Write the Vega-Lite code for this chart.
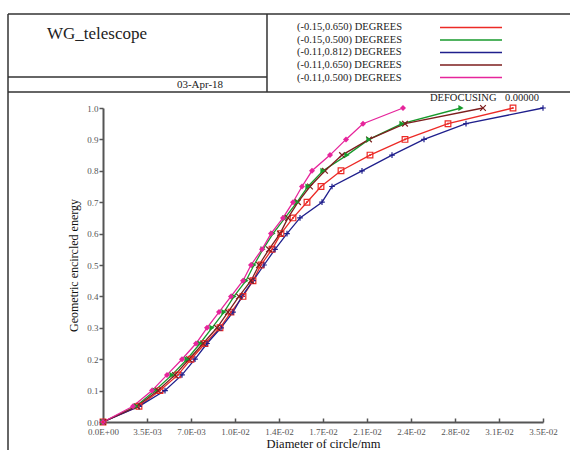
{
  "$schema": "https://vega.github.io/schema/vega-lite/v6.json",
  "width": 440,
  "height": 314,
  "autosize": "none",
  "padding": {"left": 103, "top": 108, "right": 27, "bottom": 28},
  "background": "white",
  "config": {
    "font": "Liberation Serif",
    "view": {"stroke": null},
    "axis": {"grid": false, "labelOverlap": false, "labelFlush": false, "labelBound": false},
    "axisY": {"labelOverlap": false, "tickCount": 11},
    "axisQuantitative": {"labelOverlap": false}
  },
  "datasets": {
    "ee": [
      {"s": "(-0.15,0.650) DEGREES", "e": 0.00, "d": 0},
      {"s": "(-0.15,0.650) DEGREES", "e": 0.05, "d": 0.002864},
      {"s": "(-0.15,0.650) DEGREES", "e": 0.10, "d": 0.004534},
      {"s": "(-0.15,0.650) DEGREES", "e": 0.15, "d": 0.005966},
      {"s": "(-0.15,0.650) DEGREES", "e": 0.20, "d": 0.007000},
      {"s": "(-0.15,0.650) DEGREES", "e": 0.25, "d": 0.008114},
      {"s": "(-0.15,0.650) DEGREES", "e": 0.30, "d": 0.009307},
      {"s": "(-0.15,0.650) DEGREES", "e": 0.35, "d": 0.010182},
      {"s": "(-0.15,0.650) DEGREES", "e": 0.40, "d": 0.011136},
      {"s": "(-0.15,0.650) DEGREES", "e": 0.45, "d": 0.011932},
      {"s": "(-0.15,0.650) DEGREES", "e": 0.50, "d": 0.012568},
      {"s": "(-0.15,0.650) DEGREES", "e": 0.55, "d": 0.013443},
      {"s": "(-0.15,0.650) DEGREES", "e": 0.60, "d": 0.014159},
      {"s": "(-0.15,0.650) DEGREES", "e": 0.65, "d": 0.015114},
      {"s": "(-0.15,0.650) DEGREES", "e": 0.70, "d": 0.016227},
      {"s": "(-0.15,0.650) DEGREES", "e": 0.75, "d": 0.017341},
      {"s": "(-0.15,0.650) DEGREES", "e": 0.80, "d": 0.018932},
      {"s": "(-0.15,0.650) DEGREES", "e": 0.85, "d": 0.021239},
      {"s": "(-0.15,0.650) DEGREES", "e": 0.90, "d": 0.024023},
      {"s": "(-0.15,0.650) DEGREES", "e": 0.95, "d": 0.027443},
      {"s": "(-0.15,0.650) DEGREES", "e": 1.00, "d": 0.032614},
      {"s": "(-0.15,0.500) DEGREES", "e": 0.00, "d": 0},
      {"s": "(-0.15,0.500) DEGREES", "e": 0.05, "d": 0.002625},
      {"s": "(-0.15,0.500) DEGREES", "e": 0.10, "d": 0.004136},
      {"s": "(-0.15,0.500) DEGREES", "e": 0.15, "d": 0.005489},
      {"s": "(-0.15,0.500) DEGREES", "e": 0.20, "d": 0.006682},
      {"s": "(-0.15,0.500) DEGREES", "e": 0.25, "d": 0.007716},
      {"s": "(-0.15,0.500) DEGREES", "e": 0.30, "d": 0.008670},
      {"s": "(-0.15,0.500) DEGREES", "e": 0.35, "d": 0.009625},
      {"s": "(-0.15,0.500) DEGREES", "e": 0.40, "d": 0.010420},
      {"s": "(-0.15,0.500) DEGREES", "e": 0.45, "d": 0.011375},
      {"s": "(-0.15,0.500) DEGREES", "e": 0.50, "d": 0.012011},
      {"s": "(-0.15,0.500) DEGREES", "e": 0.55, "d": 0.012727},
      {"s": "(-0.15,0.500) DEGREES", "e": 0.60, "d": 0.013523},
      {"s": "(-0.15,0.500) DEGREES", "e": 0.65, "d": 0.014477},
      {"s": "(-0.15,0.500) DEGREES", "e": 0.70, "d": 0.015432},
      {"s": "(-0.15,0.500) DEGREES", "e": 0.75, "d": 0.016307},
      {"s": "(-0.15,0.500) DEGREES", "e": 0.80, "d": 0.017500},
      {"s": "(-0.15,0.500) DEGREES", "e": 0.85, "d": 0.019409},
      {"s": "(-0.15,0.500) DEGREES", "e": 0.90, "d": 0.021159},
      {"s": "(-0.15,0.500) DEGREES", "e": 0.95, "d": 0.023784},
      {"s": "(-0.15,0.500) DEGREES", "e": 1.00, "d": 0.028477},
      {"s": "(-0.11,0.812) DEGREES", "e": 0.00, "d": 0},
      {"s": "(-0.11,0.812) DEGREES", "e": 0.05, "d": 0.002864},
      {"s": "(-0.11,0.812) DEGREES", "e": 0.10, "d": 0.004932},
      {"s": "(-0.11,0.812) DEGREES", "e": 0.15, "d": 0.006284},
      {"s": "(-0.11,0.812) DEGREES", "e": 0.20, "d": 0.007318},
      {"s": "(-0.11,0.812) DEGREES", "e": 0.25, "d": 0.008273},
      {"s": "(-0.11,0.812) DEGREES", "e": 0.30, "d": 0.009386},
      {"s": "(-0.11,0.812) DEGREES", "e": 0.35, "d": 0.010341},
      {"s": "(-0.11,0.812) DEGREES", "e": 0.40, "d": 0.011057},
      {"s": "(-0.11,0.812) DEGREES", "e": 0.45, "d": 0.011932},
      {"s": "(-0.11,0.812) DEGREES", "e": 0.50, "d": 0.012807},
      {"s": "(-0.11,0.812) DEGREES", "e": 0.55, "d": 0.013682},
      {"s": "(-0.11,0.812) DEGREES", "e": 0.60, "d": 0.014636},
      {"s": "(-0.11,0.812) DEGREES", "e": 0.65, "d": 0.015670},
      {"s": "(-0.11,0.812) DEGREES", "e": 0.70, "d": 0.017420},
      {"s": "(-0.11,0.812) DEGREES", "e": 0.75, "d": 0.018216},
      {"s": "(-0.11,0.812) DEGREES", "e": 0.80, "d": 0.020602},
      {"s": "(-0.11,0.812) DEGREES", "e": 0.85, "d": 0.022989},
      {"s": "(-0.11,0.812) DEGREES", "e": 0.90, "d": 0.025534},
      {"s": "(-0.11,0.812) DEGREES", "e": 0.95, "d": 0.028875},
      {"s": "(-0.11,0.812) DEGREES", "e": 1.00, "d": 0.035000},
      {"s": "(-0.11,0.650) DEGREES", "e": 0.00, "d": 0},
      {"s": "(-0.11,0.650) DEGREES", "e": 0.05, "d": 0.002705},
      {"s": "(-0.11,0.650) DEGREES", "e": 0.10, "d": 0.004375},
      {"s": "(-0.11,0.650) DEGREES", "e": 0.15, "d": 0.005727},
      {"s": "(-0.11,0.650) DEGREES", "e": 0.20, "d": 0.006841},
      {"s": "(-0.11,0.650) DEGREES", "e": 0.25, "d": 0.007955},
      {"s": "(-0.11,0.650) DEGREES", "e": 0.30, "d": 0.009068},
      {"s": "(-0.11,0.650) DEGREES", "e": 0.35, "d": 0.009943},
      {"s": "(-0.11,0.650) DEGREES", "e": 0.40, "d": 0.010818},
      {"s": "(-0.11,0.650) DEGREES", "e": 0.45, "d": 0.011773},
      {"s": "(-0.11,0.650) DEGREES", "e": 0.50, "d": 0.012409},
      {"s": "(-0.11,0.650) DEGREES", "e": 0.55, "d": 0.013205},
      {"s": "(-0.11,0.650) DEGREES", "e": 0.60, "d": 0.014080},
      {"s": "(-0.11,0.650) DEGREES", "e": 0.65, "d": 0.014716},
      {"s": "(-0.11,0.650) DEGREES", "e": 0.70, "d": 0.015511},
      {"s": "(-0.11,0.650) DEGREES", "e": 0.75, "d": 0.016466},
      {"s": "(-0.11,0.650) DEGREES", "e": 0.80, "d": 0.017659},
      {"s": "(-0.11,0.650) DEGREES", "e": 0.85, "d": 0.019011},
      {"s": "(-0.11,0.650) DEGREES", "e": 0.90, "d": 0.021159},
      {"s": "(-0.11,0.650) DEGREES", "e": 0.95, "d": 0.024023},
      {"s": "(-0.11,0.650) DEGREES", "e": 1.00, "d": 0.030227},
      {"s": "(-0.11,0.500) DEGREES", "e": 0.00, "d": 0},
      {"s": "(-0.11,0.500) DEGREES", "e": 0.05, "d": 0.002386},
      {"s": "(-0.11,0.500) DEGREES", "e": 0.10, "d": 0.003898},
      {"s": "(-0.11,0.500) DEGREES", "e": 0.15, "d": 0.005091},
      {"s": "(-0.11,0.500) DEGREES", "e": 0.20, "d": 0.006284},
      {"s": "(-0.11,0.500) DEGREES", "e": 0.25, "d": 0.007398},
      {"s": "(-0.11,0.500) DEGREES", "e": 0.30, "d": 0.008273},
      {"s": "(-0.11,0.500) DEGREES", "e": 0.35, "d": 0.009227},
      {"s": "(-0.11,0.500) DEGREES", "e": 0.40, "d": 0.010182},
      {"s": "(-0.11,0.500) DEGREES", "e": 0.45, "d": 0.011136},
      {"s": "(-0.11,0.500) DEGREES", "e": 0.50, "d": 0.011773},
      {"s": "(-0.11,0.500) DEGREES", "e": 0.55, "d": 0.012648},
      {"s": "(-0.11,0.500) DEGREES", "e": 0.60, "d": 0.013364},
      {"s": "(-0.11,0.500) DEGREES", "e": 0.65, "d": 0.014318},
      {"s": "(-0.11,0.500) DEGREES", "e": 0.70, "d": 0.015114},
      {"s": "(-0.11,0.500) DEGREES", "e": 0.75, "d": 0.015830},
      {"s": "(-0.11,0.500) DEGREES", "e": 0.80, "d": 0.016625},
      {"s": "(-0.11,0.500) DEGREES", "e": 0.85, "d": 0.018057},
      {"s": "(-0.11,0.500) DEGREES", "e": 0.90, "d": 0.019330},
      {"s": "(-0.11,0.500) DEGREES", "e": 0.95, "d": 0.020682},
      {"s": "(-0.11,0.500) DEGREES", "e": 1.00, "d": 0.023864}
    ],
    "frame": [
      {"x1": -0.0075568, "x2": 0.0380, "y1": 1.29936, "y2": 1.29936},
      {"x1": -0.0075568, "x2": 0.0380, "y1": 1.05096, "y2": 1.05096},
      {"x1": -0.0075568, "x2": -0.0075568, "y1": 1.29936, "y2": -0.1},
      {"x1": 0.013045, "x2": 0.013045, "y1": 1.29936, "y2": 1.05096},
      {"x1": -0.0075568, "x2": 0.013045, "y1": 1.09873, "y2": 1.09873}
    ],
    "legend": [
      {"s": "(-0.15,0.650) DEGREES", "tx": 0.015432, "x1": 0.026807, "x2": 0.031739, "y": 1.2564},
      {"s": "(-0.15,0.500) DEGREES", "tx": 0.015432, "x1": 0.026807, "x2": 0.031739, "y": 1.2166},
      {"s": "(-0.11,0.812) DEGREES", "tx": 0.015432, "x1": 0.026807, "x2": 0.031739, "y": 1.1768},
      {"s": "(-0.11,0.650) DEGREES", "tx": 0.015432, "x1": 0.026807, "x2": 0.031739, "y": 1.1369},
      {"s": "(-0.11,0.500) DEGREES", "tx": 0.015432, "x1": 0.026807, "x2": 0.031739, "y": 1.0971}
    ]
  },
  "layer": [
    {
      "data": {"name": "frame"},
      "mark": {"type": "rule", "color": "#333333", "strokeWidth": 1.5},
      "encoding": {
        "x": {
          "field": "x1", "type": "quantitative",
          "scale": {"domain": [0, 0.035], "nice": false, "zero": false},
          "axis": {
            "values": [0, 0.0035, 0.007, 0.0105, 0.014, 0.0175, 0.021, 0.0245, 0.028, 0.0315, 0.035],
            "labelExpr": "['0.0E+00','3.5E-03','7.0E-03','1.0E-02','1.4E-02','1.7E-02','2.1E-02','2.4E-02','2.8E-02','3.1E-02','3.5E-02'][round(datum.value/0.0035)]",
            "title": "Diameter of circle/mm",
            "titleFontSize": 12.5, "titleFontWeight": "normal", "titleColor": "#111111", "titlePadding": 1,
            "labelFontSize": 9, "labelColor": "#555555", "labelPadding": 9,
            "domainColor": "#555555", "domainWidth": 2,
            "tickColor": "#555555", "tickWidth": 1.5, "tickSize": -4,
            "labelFlush": false, "labelOverlap": false
          }
        },
        "x2": {"field": "x2"},
        "y": {
          "field": "y1", "type": "quantitative",
          "scale": {"domain": [0, 1], "nice": false, "zero": false},
          "axis": {
            "values": [0, 0.1, 0.2, 0.3, 0.4, 0.5, 0.6, 0.7, 0.8, 0.9, 1.0],
            "tickCount": 11,
            "labelExpr": "format(datum.value, '.1f')",
            "title": "Geometric encircled energy",
            "titleFontSize": 12, "titleFontWeight": "normal", "titleColor": "#111111", "titlePadding": 6,
            "labelFontSize": 9, "labelColor": "#555555", "labelPadding": 1,
            "domainColor": "#555555", "domainWidth": 2,
            "tickColor": "#555555", "tickWidth": 1.5, "tickSize": 4,
            "labelFlush": false, "labelOverlap": false, "labelSeparation": 0
          }
        },
        "y2": {"field": "y2"}
      }
    },
    {
      "data": {"name": "legend"},
      "mark": {"type": "rule", "strokeWidth": 1.5},
      "encoding": {
        "x": {"field": "x1", "type": "quantitative"},
        "x2": {"field": "x2"},
        "y": {"field": "y", "type": "quantitative"},
        "color": {"field": "s", "type": "nominal", "legend": null}
      }
    },
    {
      "data": {"name": "legend"},
      "mark": {"type": "text", "align": "left", "baseline": "middle", "fontSize": 10.5, "color": "#222222"},
      "encoding": {
        "x": {"field": "tx", "type": "quantitative"},
        "y": {"field": "y", "type": "quantitative"},
        "text": {"field": "s"}
      }
    },
    {
      "data": {"values": [{"t": "WG_telescope", "x": -0.004455, "y": 1.2357}]},
      "mark": {"type": "text", "align": "left", "baseline": "middle", "fontSize": 17, "color": "#222222"},
      "encoding": {
        "x": {"field": "x", "type": "quantitative"},
        "y": {"field": "y", "type": "quantitative"},
        "text": {"field": "t"}
      }
    },
    {
      "data": {"values": [{"t": "03-Apr-18", "x": 0.007716, "y": 1.0732}]},
      "mark": {"type": "text", "align": "center", "baseline": "middle", "fontSize": 11, "color": "#222222"},
      "encoding": {
        "x": {"field": "x", "type": "quantitative"},
        "y": {"field": "y", "type": "quantitative"},
        "text": {"field": "t"}
      }
    },
    {
      "data": {"values": [{"t": "DEFOCUSING", "x": 0.026011, "y": 1.0318}, {"t": "0.00000", "x": 0.031977, "y": 1.0318}]},
      "mark": {"type": "text", "align": "left", "baseline": "middle", "fontSize": 10.5, "color": "#222222"},
      "encoding": {
        "x": {"field": "x", "type": "quantitative"},
        "y": {"field": "y", "type": "quantitative"},
        "text": {"field": "t"}
      }
    },
    {
      "data": {"name": "ee"},
      "mark": {"type": "line", "strokeWidth": 1.3},
      "encoding": {
        "x": {"field": "d", "type": "quantitative"},
        "y": {"field": "e", "type": "quantitative"},
        "color": {
          "field": "s", "type": "nominal", "legend": null,
          "scale": {
            "domain": ["(-0.15,0.650) DEGREES", "(-0.15,0.500) DEGREES", "(-0.11,0.812) DEGREES", "(-0.11,0.650) DEGREES", "(-0.11,0.500) DEGREES"],
            "range": ["#ec2a26", "#179a2c", "#1f1f8c", "#7c1e1e", "#e6259b"]
          }
        }
      }
    },
    {
      "data": {"name": "ee"},
      "transform": [{"filter": "datum.s === '(-0.15,0.650) DEGREES' || datum.s === '(-0.11,0.812) DEGREES' || datum.s === '(-0.11,0.650) DEGREES'"}],
      "mark": {"type": "point", "filled": false, "strokeWidth": 1.2, "opacity": 1},
      "encoding": {
        "x": {"field": "d", "type": "quantitative"},
        "y": {"field": "e", "type": "quantitative"},
        "color": {"field": "s", "type": "nominal", "legend": null},
        "shape": {
          "field": "s", "type": "nominal", "legend": null,
          "scale": {
            "domain": ["(-0.15,0.650) DEGREES", "(-0.15,0.500) DEGREES", "(-0.11,0.812) DEGREES", "(-0.11,0.650) DEGREES", "(-0.11,0.500) DEGREES"],
            "range": ["square", "triangle-right", "M-1,0L1,0M0,-1L0,1", "M-1,-1L1,1M-1,1L1,-1", "diamond"]
          }
        },
        "size": {"value": 32}
      }
    },
    {
      "data": {"name": "ee"},
      "transform": [{"filter": "datum.s === '(-0.15,0.500) DEGREES' || datum.s === '(-0.11,0.500) DEGREES'"}],
      "mark": {"type": "point", "filled": true, "opacity": 1},
      "encoding": {
        "x": {"field": "d", "type": "quantitative"},
        "y": {"field": "e", "type": "quantitative"},
        "color": {"field": "s", "type": "nominal", "legend": null},
        "shape": {"field": "s", "type": "nominal", "legend": null},
        "size": {"value": 36}
      }
    },
    {
      "data": {"name": "ee"},
      "transform": [{"filter": "datum.s === '(-0.15,0.650) DEGREES'"}],
      "mark": {"type": "point", "filled": true, "shape": "square", "opacity": 1},
      "encoding": {
        "x": {"field": "d", "type": "quantitative"},
        "y": {"field": "e", "type": "quantitative"},
        "color": {"field": "s", "type": "nominal", "legend": null},
        "size": {"value": 3}
      }
    }
  ]
}
